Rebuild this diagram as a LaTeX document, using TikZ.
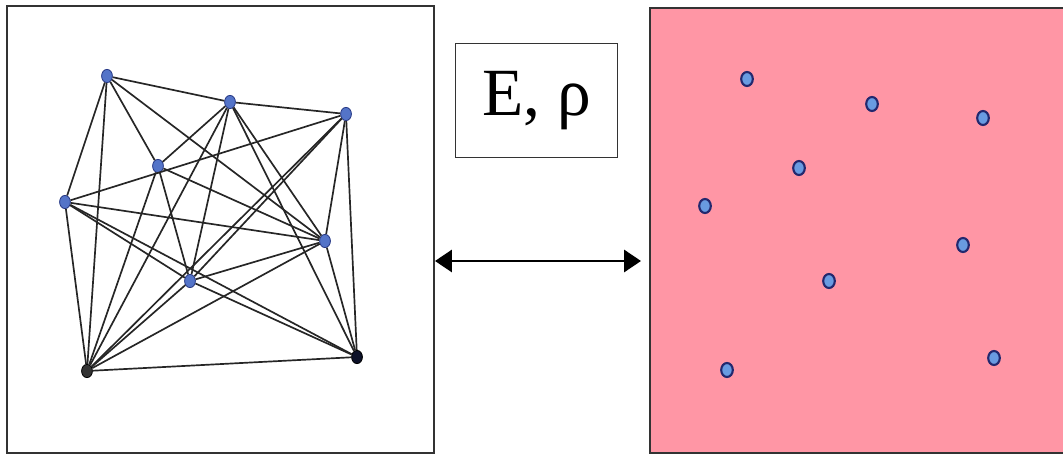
\documentclass[tikz,border=0pt]{standalone}
\usepackage{fontspec}
\setmainfont{Liberation Serif}
\usetikzlibrary{arrows.meta,shapes.geometric}
\definecolor{cnode}{RGB}{84,116,200}
\definecolor{cnodeedge}{RGB}{40,58,135}
\definecolor{cpink}{RGB}{255,150,165}
\definecolor{cring}{RGB}{35,40,110}
\definecolor{cdot}{RGB}{105,155,225}
\tikzset{
  panel/.style={draw=black!80,line width=1.4pt},
  % network sites on the left, pores in the pink continuum on the right
  site/.style={ellipse,inner sep=0pt,minimum width=0.27cm,minimum height=0.33cm,
    fill=cnode,draw=cnodeedge,line width=0.6pt},
  darksite/.style={site,fill=black!80,draw=black},
  link/.style={draw=black!85,line width=1.2pt},
  pore/.style={ellipse,inner sep=0pt,minimum width=0.29cm,minimum height=0.35cm,
    fill=cdot,draw=cring,line width=1.5pt},
  param/.style={rectangle,draw=black!80,line width=1.3pt,minimum width=4.05cm,
    minimum height=2.85cm,inner sep=0pt,font=\fontsize{48}{56}\selectfont},
  biarr/.style={{Triangle[length=0.42cm,width=0.55cm]}-{Triangle[length=0.42cm,width=0.55cm]},
    line width=1.7pt}
}
\begin{document}
\begin{tikzpicture}[x=0.025cm,y=-0.025cm]
  \useasboundingbox (0,0) rectangle (1063,457);
  % the two panels
  \draw[panel] (7,6) rectangle (434,453);
  \fill[cpink] (650,8) rectangle (1070,453);
  \draw[panel] (650,8) rectangle (1070,453);
  % network of sites
  \node[site] (a) at (107,76) {};
  \node[site] (b) at (230,102) {};
  \node[site] (c) at (346,114) {};
  \node[site] (d) at (158,166) {};
  \node[site] (e) at (65,202) {};
  \node[site] (f) at (325,241) {};
  \node[site] (g) at (190,281) {};
  \node[darksite] (h) at (87,371) {};
  \node[darksite,fill=black!70!cnodeedge] (i) at (357,357) {};
  \foreach \p/\q in {a/b,a/d,a/e,a/f,a/h,b/c,b/d,b/f,b/g,b/h,b/i,c/e,c/f,c/g,c/h,
    c/i,d/f,d/g,d/h,e/f,e/g,e/h,e/i,f/g,f/h,f/i,g/h,g/i,h/i}
    \draw[link] (\p) -- (\q);
  % material parameters
  \node[param] (mat) at (536.5,100.5) {E, ρ};
  \coordinate (arrL) at (435,261);
  \coordinate (arrR) at (641,261);
  \draw[biarr] (arrL) -- (arrR);
  % pores in the continuum
  \node[pore] (r1) at (747,79) {};
  \node[pore] (r2) at (872,104) {};
  \node[pore] (r3) at (983,118) {};
  \node[pore] (r4) at (799,168) {};
  \node[pore] (r5) at (705,206) {};
  \node[pore] (r6) at (963,245) {};
  \node[pore] (r7) at (829,281) {};
  \node[pore] (r8) at (727,370) {};
  \node[pore] (r9) at (994,358) {};
\end{tikzpicture}
\end{document}
